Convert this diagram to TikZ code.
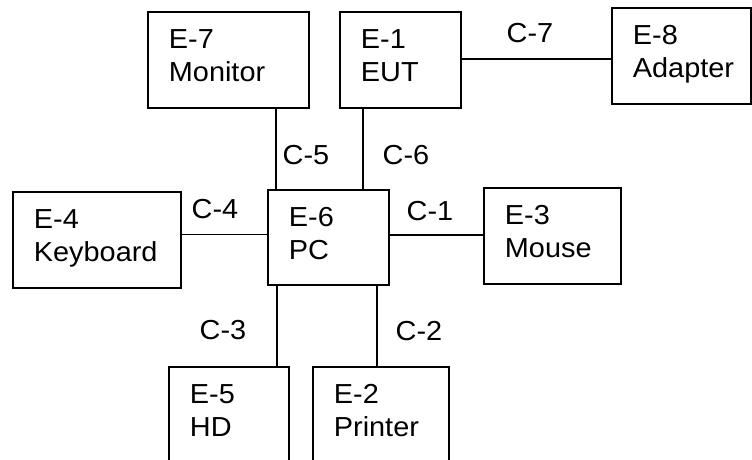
\documentclass[tikz,border=0pt]{standalone}
\usepackage{fontspec}
\setmainfont[FakeStretch=1.05]{Liberation Sans}
\begin{document}
\begin{tikzpicture}[x=1pt,y=-1pt,
  every node/.style={font=\fontsize{27.5}{33}\selectfont},
  ebox/.style={draw, line width=1.8pt, anchor=north west, align=left,
    inner xsep=21pt, inner ysep=0pt, text height=37pt},
  wire/.style={line width=1.6pt},
  clabel/.style={inner sep=0pt, anchor=center}]
\useasboundingbox (0,0) rectangle (752,459);
\clip (0,0) rectangle (752,459);
\node[ebox, text width=119pt, text depth=59pt] (e7) at (147,11) {E-7\\Monitor};
\node[ebox, text width=79pt, text depth=59pt] (e1) at (339,11) {E-1\\EUT};
\node[ebox, text width=97pt, text depth=59pt] (e8) at (611,7) {E-8\\Adapter};
\node[ebox, text width=126pt, text depth=59pt] (e4) at (12,191) {E-4\\Keyboard};
\node[ebox, text width=79pt, text depth=58pt] (e6) at (267,189) {E-6\\PC};
\node[ebox, text width=95pt, text depth=59pt] (e3) at (483,187) {E-3\\Mouse};
\node[ebox, text width=78pt, text depth=59pt] (e5) at (168,366) {E-5\\HD};
\node[ebox, text width=94pt, text depth=59pt] (e2) at (312,366) {E-2\\Printer};
% connectors
\draw[wire] ([yshift=1pt]e1.east) -- ([yshift=1pt]e1.east -| e8.west);
\draw[wire] ([yshift=3pt]e6.west) -- ([yshift=3pt]e6.west -| e4.east);
\draw[wire] ([yshift=2.5pt]e6.east) -- ([yshift=2.5pt]e6.east -| e3.west);
\draw[wire] ([xshift=9pt]e6.north west) -- ([xshift=9pt]e6.north west |- e7.south);
\draw[wire] ([xshift=96pt]e6.north west) -- ([xshift=96pt]e6.north west |- e1.south);
\draw[wire] ([xshift=10pt]e6.south west) -- ([xshift=10pt]e6.south west |- e5.north);
\draw[wire] ([xshift=110pt]e6.south west) -- ([xshift=110pt]e6.south west |- e2.north);
% cable labels
\node[clabel] (c7) at (530,33) {C-7};
\node[clabel] (c5) at (306,155) {C-5};
\node[clabel] (c6) at (406,155) {C-6};
\node[clabel] (c4) at (215,209) {C-4};
\node[clabel] (c1) at (430,211) {C-1};
\node[clabel] (c3) at (223,330) {C-3};
\node[clabel] (c2) at (419,331) {C-2};
\end{tikzpicture}
\end{document}
